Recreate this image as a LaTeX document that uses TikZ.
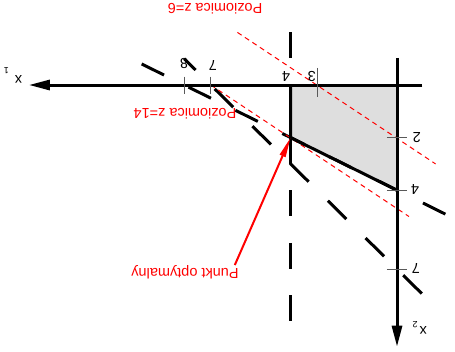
\documentclass[tikz,border=0pt]{standalone}
\usepackage{fontspec}
\setmainfont{Liberation Sans}
\usetikzlibrary{arrows.meta}

\begin{document}
\begin{tikzpicture}[x={(-26.6pt,0pt)}, y={(0pt,-26.3pt)},
  axis/.style={line width=3pt, -{Triangle[length=21pt,width=10pt]}},
  edge/.style={line width=3pt},
  limit/.style={line width=3pt, dash pattern=on 26pt off 26.6pt},
  tickmark/.style={line width=1pt, black!65},
  level/.style={red, line width=1pt, dash pattern=on 5pt off 4pt},
  lbl/.style={rotate=180, inner sep=0pt, font=\fontsize{14.5}{17}\selectfont},
  redlbl/.style={lbl, text=red}]
\useasboundingbox (14.925,-3.232) rectangle (-2.180,10.114);
\coordinate (O) at (0,0);
\coordinate (A) at (4,0);
\coordinate (opt) at (4,2);
\coordinate (B) at (0,4);
\fill[black!13] (O) -- (A) -- (opt) -- (B) -- cycle;
\draw[limit] (4,-2) -- (4,9);
\draw[limit, dash pattern=on 25pt off 27.3pt] (9.6,-0.8) -- (-2,5);
\draw[limit, dash pattern=on 26pt off 27pt, dash phase=10pt] (8,-1) -- (-1,8);
\draw[level] (6,-2) -- (-1.45,3);
\draw[level] (7,0) -- (-0.45,5);
\draw[edge] (A) -- (opt) -- (B);
\draw[axis] (-0.95,0) -- (13.84,0);
\draw[axis] (0,-1.03) -- (0,9.95);
\draw[tickmark] (3,-0.65) -- (3,0.46);
\foreach \t in {7,8}
  \draw[tickmark] (\t,-0.32) -- (\t,0.34);
\foreach \t in {2,4,7}
  \draw[tickmark] (0.38,\t) -- (-0.38,\t);
\node[lbl] (t3) at (3.2,-0.34) {3};
\node[lbl] (t4) at (4.17,-0.34) {4};
\node[lbl] (t7) at (6.92,-0.76) {7};
\node[lbl] (t8) at (8.0,-0.8) {8};
\node[lbl] (s2) at (-0.75,1.98) {2};
\node[lbl] (s4) at (-0.68,3.99) {4};
\node[lbl] (s7) at (-0.71,6.96) {7};
\node[lbl] (x1) at (14.44,-0.38) {x\kern6pt\raisebox{-8pt}{\small 1}};
\node[lbl] (x2) at (-0.85,9.24) {x\kern2pt\raisebox{-5pt}{\small 2}};
\node[redlbl] (z6) at (6.84,-2.89) {Poziomica z=6};
\node[redlbl] (z14) at (7.97,1.10) {Poziomica z=14};
\node[redlbl] (punkt) at (7.97,7.11) {Punkt optymalny};
\draw[red, line width=2pt, -{Triangle[length=20pt,width=6pt]}] ([xshift=-4pt]punkt.south west) -- (opt);
\end{tikzpicture}
\end{document}
